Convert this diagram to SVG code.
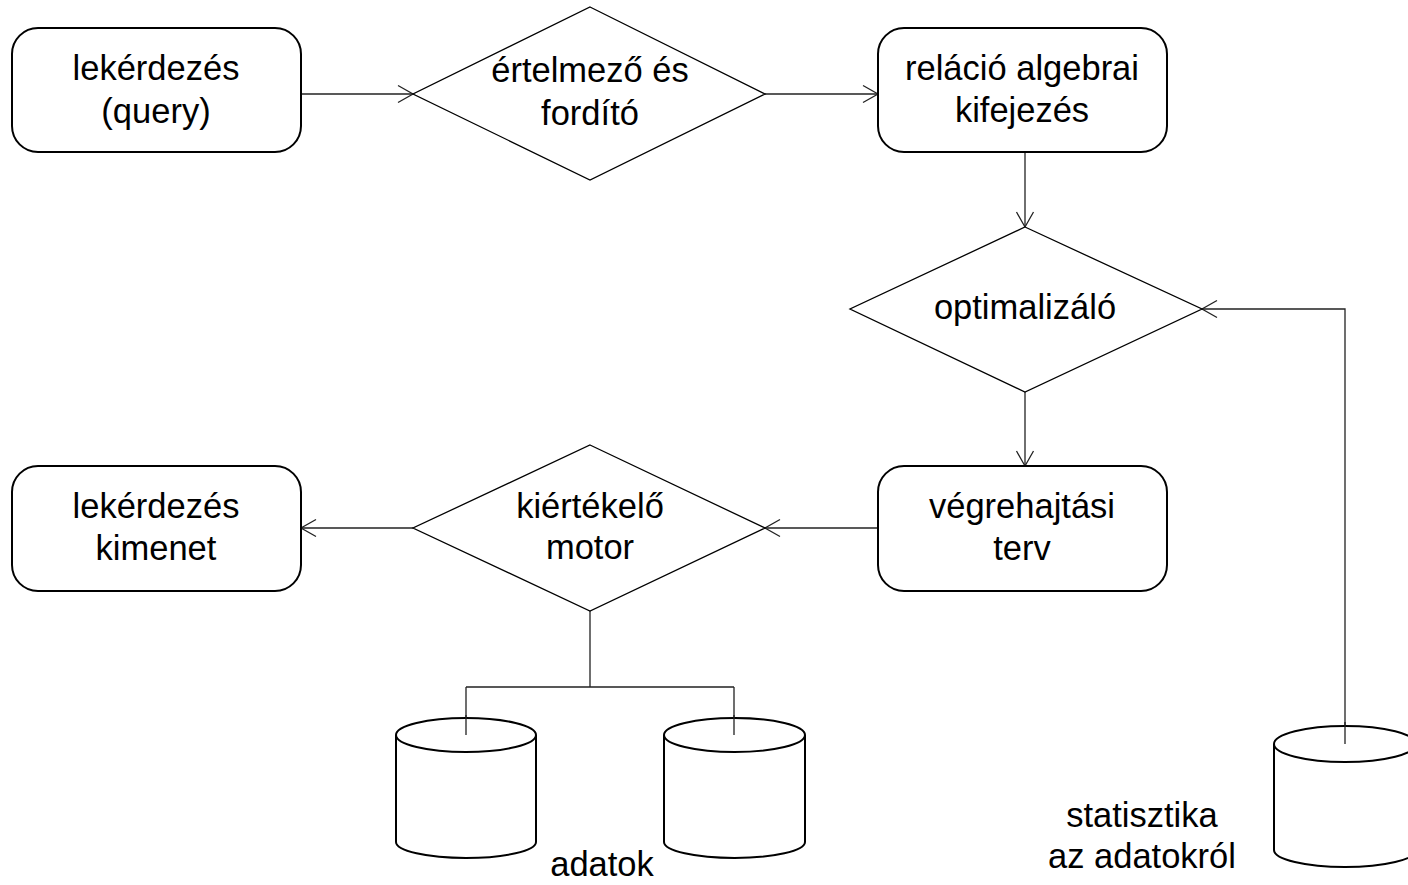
<svg xmlns="http://www.w3.org/2000/svg" width="1408" height="885" viewBox="0 0 1408 885">
<style>
.box{fill:#fff;stroke:#000;stroke-width:2}
.dia{fill:#fff;stroke:#000;stroke-width:1.3}
.cyl{fill:#fff;stroke:#000;stroke-width:2}
.con{fill:none;stroke:#222;stroke-width:1.3}
.arr{marker-end:url(#ah)}
text{font-family:"Liberation Sans",Arial,sans-serif;font-size:34.5px;fill:#000;text-anchor:middle}
</style>
<defs>
<marker id="ah" markerUnits="userSpaceOnUse" markerWidth="24" markerHeight="24" viewBox="-20 -12 24 24" refX="0" refY="0" orient="auto" overflow="visible">
<path d="M-15,-8.5 L0,0 L-15,8.5" fill="none" stroke="#222" stroke-width="1.3"/>
</marker>
</defs>
<rect width="1408" height="885" fill="#fff"/>
<g id="connectors">
<path class="con arr" d="M301,94 H413"/>
<path class="con arr" d="M765,94 H878"/>
<path class="con arr" d="M1025,152 V227"/>
<path class="con arr" d="M1025,392 V466"/>
<path class="con arr" d="M878,528 H765"/>
<path class="con arr" d="M413,528 H301"/>
<path class="con arr" d="M1345,744 V309 H1202"/>
<path class="con" d="M590,611 V687 M466,687 H734 M466,687 V735 M734,687 V735"/>
</g>
<g id="query">
<rect class="box" x="12" y="28" width="289" height="124" rx="26"/>
<text x="156" y="80">lekérdezés</text>
<text x="156" y="123">(query)</text>
</g>
<g id="parser">
<polygon class="dia" points="590,7 765,94 590,180 413,94"/>
<text x="590" y="82">értelmező és</text>
<text x="590" y="125">fordító</text>
</g>
<g id="relalg">
<rect class="box" x="878" y="28" width="289" height="124" rx="26"/>
<text x="1022" y="80">reláció algebrai</text>
<text x="1022" y="122">kifejezés</text>
</g>
<g id="optimizer">
<polygon class="dia" points="1025,227 1202,309 1025,392 850,309"/>
<text x="1025" y="319">optimalizáló</text>
</g>
<g id="plan">
<rect class="box" x="878" y="466" width="289" height="125" rx="26"/>
<text x="1022" y="518">végrehajtási</text>
<text x="1022" y="560">terv</text>
</g>
<g id="engine">
<polygon class="dia" points="590,445 765,528 590,611 413,528"/>
<text x="590" y="518">kiértékelő</text>
<text x="590" y="559">motor</text>
</g>
<g id="output">
<rect class="box" x="12" y="466" width="289" height="125" rx="26"/>
<text x="156" y="518">lekérdezés</text>
<text x="156" y="560">kimenet</text>
</g>
<g id="data1">
<path class="cyl" d="M396,735 A70,17 0 0 1 536,735 V842 A70,16 0 0 1 396,842 Z"/>
<path class="cyl" d="M396,735 A70,17 0 0 0 536,735" fill="none"/>
</g>
<g id="data2">
<path class="cyl" d="M664,735 A70.5,17 0 0 1 805,735 V842 A70.5,16 0 0 1 664,842 Z"/>
<path class="cyl" d="M664,735 A70.5,17 0 0 0 805,735" fill="none"/>
</g>
<g id="data-label">
<text x="602" y="876">adatok</text>
</g>
<g id="stats">
<path class="cyl" d="M1274,744 A71,18 0 0 1 1416,744 V850 A71,17 0 0 1 1274,850 Z"/>
<path class="cyl" d="M1274,744 A71,18 0 0 0 1416,744" fill="none"/>
<text x="1142" y="827">statisztika</text>
<text x="1142" y="868">az adatokról</text>
</g>
<path class="con" d="M466,715 V735 M734,715 V735 M1345,722 V744"/>
</svg>
